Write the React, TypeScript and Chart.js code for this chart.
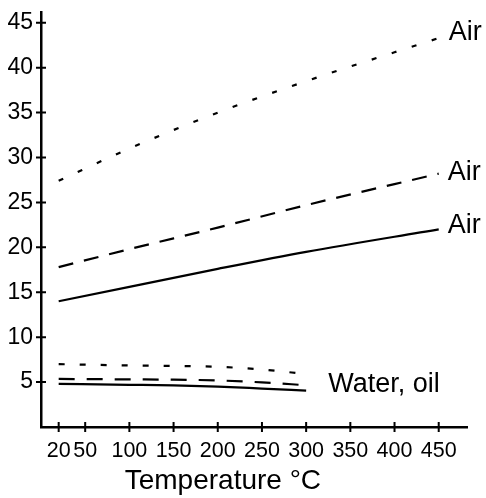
import React, { useEffect, useRef } from "react";
import { Chart, registerables } from "chart.js";

Chart.register(...registerables);

// ---- data ----
const airTemps = [20, 100, 200, 300, 450];
const airDottedValues = [27.4, 31.0, 35.0, 38.5, 43.3];
const airDashedValues = [17.8, 19.8, 22.2, 24.7, 28.2];
const airSolidValues = [14.0, 15.6, 17.6, 19.5, 22.0];

const waterTemps = [20, 100, 150, 200, 250, 300];
const waterDottedValues = [7.0, 6.85, 6.8, 6.7, 6.4, 5.9];
const waterDashedValues = [5.35, 5.3, 5.27, 5.18, 4.97, 4.65];
const waterSolidValues = [4.8, 4.7, 4.63, 4.5, 4.28, 4.05];

const xTickValues = [20, 50, 100, 150, 200, 250, 300, 350, 400, 450];
const yTickStep = 5;
const xAxisTitle = "Temperature °C";
const seriesEndLabels = ["Air", "Air", "Air", "", "Water, oil", ""];

// ---- styles ----
const TICK_FONT = '"Liberation Sans", Arial, Helvetica, sans-serif';
const LABEL_FONT = '"Liberation Sans", Arial, Helvetica, sans-serif';
const labelOffsets = [
  { dx: 10, dy: -6 },
  { dx: 9, dy: -1 },
  { dx: 9, dy: -4 },
  { dx: 0, dy: 0 },
  { dx: 22, dy: -1 },
  { dx: 0, dy: 0 },
];

const toPoints = (xs: number[], ys: number[]) => xs.map((x, i) => ({ x, y: ys[i] }));

const crossTicks = {
  id: "crossTicks",
  afterDraw(chart: any) {
    const { ctx, chartArea } = chart;
    const xs = chart.scales.x;
    const ys = chart.scales.y;
    ctx.save();
    ctx.strokeStyle = "#000";
    ctx.lineWidth = 2;
    ctx.beginPath();
    ys.ticks.forEach((t: any) => {
      if (t.value <= 0) return;
      const py = ys.getPixelForValue(t.value);
      ctx.moveTo(chartArea.left - 5, py);
      ctx.lineTo(chartArea.left + 5, py);
    });
    xs.ticks.forEach((t: any) => {
      const px = xs.getPixelForValue(t.value);
      ctx.moveTo(px, chartArea.bottom - 5);
      ctx.lineTo(px, chartArea.bottom + 5);
    });
    ctx.stroke();
    ctx.restore();
  },
};

const endLabels = {
  id: "endLabels",
  afterDatasetsDraw(chart: any) {
    const { ctx } = chart;
    ctx.save();
    ctx.fillStyle = "#000";
    ctx.font = `27px ${LABEL_FONT}`;
    ctx.textAlign = "left";
    ctx.textBaseline = "middle";
    seriesEndLabels.forEach((text, i) => {
      if (!text) return;
      const meta = chart.getDatasetMeta(i);
      const pt = meta.data[meta.data.length - 1];
      if (!pt) return;
      ctx.fillText(text, pt.x + labelOffsets[i].dx, pt.y + labelOffsets[i].dy);
    });
    ctx.restore();
  },
};

export default function App() {
  const ref = useRef<HTMLCanvasElement | null>(null);

  useEffect(() => {
    if (!ref.current) return;
    const base = {
      borderColor: "#000",
      borderWidth: 2.2,
      pointRadius: 0,
      fill: false,
      cubicInterpolationMode: "monotone" as const,
    };
    const chart = new Chart(ref.current, {
      type: "line",
      data: {
        datasets: [
          { ...base, data: toPoints(airTemps, airDottedValues), borderDash: [5, 16] },
          { ...base, data: toPoints(airTemps, airDashedValues), borderDash: [15, 11] },
          { ...base, data: toPoints(airTemps, airSolidValues) },
          { ...base, data: toPoints(waterTemps, waterDottedValues), borderDash: [6, 15] },
          { ...base, data: toPoints(waterTemps, waterDashedValues), borderDash: [16, 12] },
          { ...base, data: toPoints(waterTemps, waterSolidValues) },
        ],
      },
      options: {
        animation: false,
        responsive: false,
        events: [],
        layout: { padding: { top: 12, right: 19, left: 0, bottom: 0 } },
        plugins: { legend: { display: false }, tooltip: { enabled: false }, title: { display: false } },
        scales: {
          x: {
            type: "linear",
            min: 0,
            max: 482,
            grid: { display: false, drawTicks: false },
            border: { display: true, color: "#000", width: 2.5 },
            afterBuildTicks: (scale: any) => {
              scale.ticks = xTickValues.map((v) => ({ value: v }));
            },
            afterFit: (scale: any) => {
              scale.height = 71;
              scale.paddingLeft = 0;
              scale.paddingRight = 0;
            },
            ticks: {
              autoSkip: false,
              maxRotation: 0,
              minRotation: 0,
              padding: 11,
              color: "#000",
              font: { family: TICK_FONT, size: 21.5 },
              callback: (v: any) => String(v),
            },
            title: {
              display: true,
              text: xAxisTitle + "\u00A0".repeat(8),
              color: "#000",
              font: { family: LABEL_FONT, size: 28 },
              padding: { top: 0, bottom: 0 },
            },
          },
          y: {
            type: "linear",
            min: 0,
            max: 46.2,
            grid: { display: false, drawTicks: false },
            border: { display: true, color: "#000", width: 2.5 },
            afterFit: (scale: any) => {
              scale.width = 41;
              scale.paddingTop = 0;
              scale.paddingBottom = 0;
            },
            ticks: {
              stepSize: yTickStep,
              includeBounds: false,
              padding: 8,
              color: "#000",
              font: { family: TICK_FONT, size: 23 },
              callback: (v: any) => (v === 0 ? "" : String(v)),
            },
          },
        },
      },
      plugins: [crossTicks, endLabels],
    });
    return () => chart.destroy();
  }, []);

  return (
    <div style={{ position: "absolute", left: 0, top: 0, width: 486, height: 498, background: "#fff" }}>
      <canvas ref={ref} width={486} height={498} style={{ display: "block" }} />
    </div>
  );
}
